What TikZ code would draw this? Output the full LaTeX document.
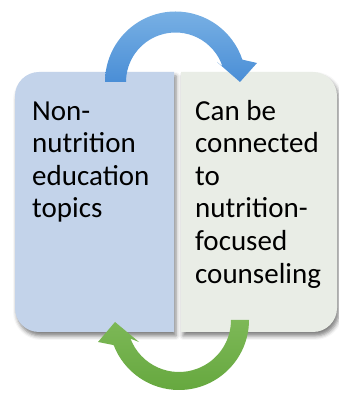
\documentclass[tikz,border=0pt]{standalone}
\usepackage{fontspec}
\setmainfont{Carlito}
\usetikzlibrary{shadows.blur}
\definecolor{leftfill}{HTML}{C3D3EA}
\definecolor{rightfill}{HTML}{E9EDE6}
\definecolor{blueA}{HTML}{78B0E4}
\definecolor{blueB}{HTML}{4A8ED6}
\definecolor{greenA}{HTML}{7DB857}
\definecolor{greenB}{HTML}{66A83F}
\tikzset{
  boxshadow/.style={blur shadow={shadow xshift=2pt, shadow yshift=-4pt, shadow blur radius=4pt, shadow opacity=50}},
  boxtext/.style={anchor=north west, inner sep=0pt, align=left, text=black,
    font=\fontsize{29}{32.6}\selectfont},
}
\begin{document}
\begin{tikzpicture}[x=1pt,y=1pt]
\useasboundingbox (0,0) rectangle (339,393);
% left box
\path[fill=leftfill, boxshadow] (174,321) -- (39,321) arc[start angle=90, end angle=180, radius=24]
  -- (15,85) arc[start angle=180, end angle=270, radius=24] -- (174,61) -- cycle;
% right box
\path[fill=rightfill, boxshadow] (181,321) -- (313,321) arc[start angle=90, end angle=0, radius=24]
  -- (337,85) arc[start angle=0, end angle=-90, radius=24] -- (181,61) -- cycle;
% texts
\node[boxtext] (lt) at (32,294) {\rule{0pt}{21pt}Non-\\nutrition\\education\\topics};
\node[boxtext] (rt) at (195,294) {\rule{0pt}{21pt}Can be\\connected\\to\\nutrition-\\focused\\counseling};
% blue arrow
\coordinate (bc) at (175.5,311);
\shade[top color=blueA, bottom color=blueB]
  ([shift={(180:70.5)}]bc) arc[start angle=180, end angle=18.5, radius=70.5]
  -- (257,330) -- (240,311) -- (217,331)
  -- ([shift={(18.5:49.5)}]bc) arc[start angle=18.5, end angle=180, radius=49.5] -- cycle;
% green arrow
\coordinate (gc) at (179,73);
\shade[top color=greenA, bottom color=greenB]
  ([shift={(0:70)}]gc) arc[start angle=0, end angle=-159, radius=70]
  -- (98,51) -- (115,71) -- (139,51)
  -- ([shift={(-159:52)}]gc) arc[start angle=-159, end angle=0, radius=52] -- cycle;
\end{tikzpicture}
\end{document}
